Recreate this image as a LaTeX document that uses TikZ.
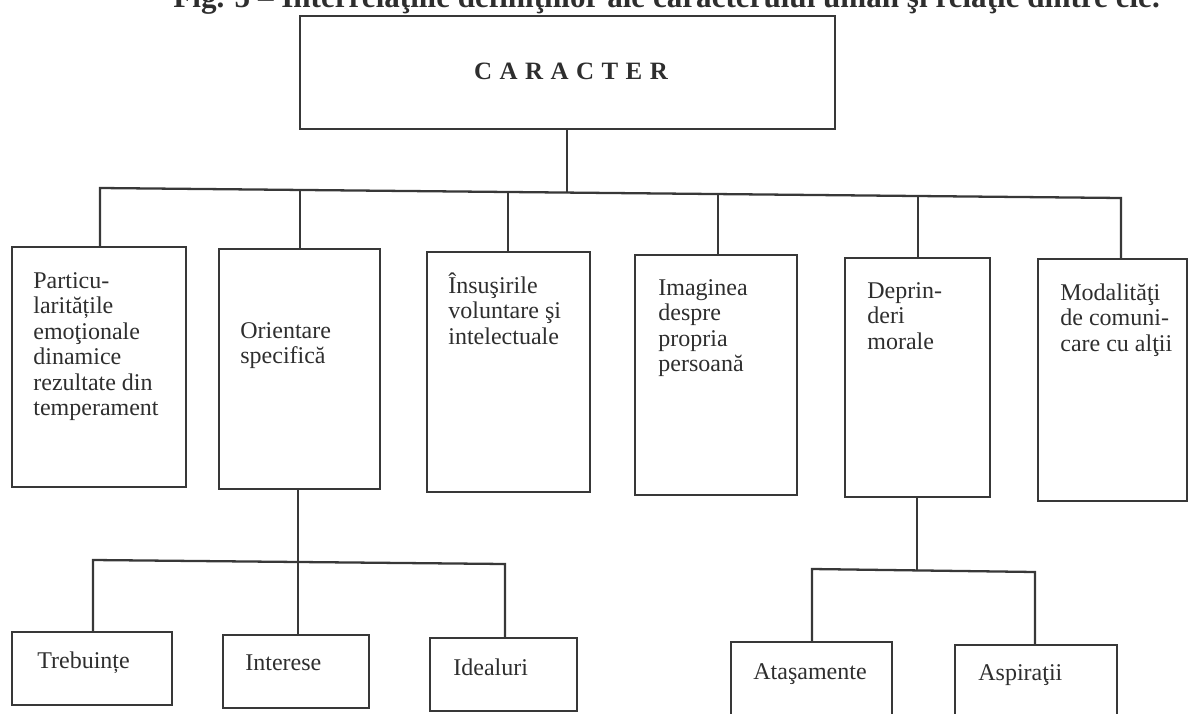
\documentclass[tikz,border=0pt]{standalone}
\usepackage{fontspec}
\setmainfont{Liberation Serif}
\usetikzlibrary{calc}
\definecolor{ink}{gray}{0.18}
\definecolor{rule}{gray}{0.22}
\newcommand{\fstrut}{\rule{0pt}{0.95em}}
\begin{document}
\begin{tikzpicture}[x=0.02cm,y=-0.02cm,
  box/.style 2 args={draw=rule, line width=1.3pt, minimum width={#1*0.02cm}, minimum height={#2*0.02cm}, inner sep=0pt},
  link/.style={draw=rule, line width=1.3pt},
  txt/.style={anchor=north west, inner sep=0pt, align=left, text=ink,
    font=\fontsize{13.66}{14.5}\selectfont},
  head/.style={inner sep=0pt, text=ink, font=\fontsize{17.7}{19}\selectfont\bfseries}]
\useasboundingbox (0,0) rectangle (1189,713);
\clip (0,0) rectangle (1189,713);

% caption line, partly cut off at the top edge
\node[head, anchor=base east] (cap) at (1160,8) {Fig. 5 -- Interrelaţiile definiţiilor ale caracterului uman şi relaţie dintre ele.};

% root
\node[box={535}{113}] (b0) at (567.5,72.5) {};
\node[inner sep=0pt, anchor=base, text=ink, font=\fontsize{14.2}{16}\selectfont\bfseries\addfontfeature{LetterSpace=30}] (b0t) at (571,80) {CARACTER};

% first level
\node[box={174}{240}] (b1) at (99,367) {};
\node[box={161}{240}] (b2) at (299.5,369) {};
\node[box={163}{240}] (b3) at (508.5,372) {};
\node[box={162}{240}] (b4) at (716,375) {};
\node[box={145}{239}] (b5) at (917.5,377.5) {};
\node[box={149}{242}] (b6) at (1112.5,380) {};

\node[txt] (b1t) at (33,265.2) {\fstrut Particu-\\laritățile\\emoţionale\\dinamice\\rezultate din\\temperament};
\node[txt] (b2t) at (240,315.2) {\fstrut Orientare\\specifică};
\node[txt] (b3t) at (448,270.2) {\fstrut Însuşirile\\voluntare şi\\intelectuale};
\node[txt] (b4t) at (658,272.2) {\fstrut Imaginea\\despre\\propria\\persoană};
\node[txt] (b5t) at (867,275.2) {\fstrut Deprin-\\deri\\morale};
\node[txt] (b6t) at (1060,277.2) {\fstrut Modalităţi\\de comuni-\\care cu alţii};

% second level under "Orientare specifică"
\node[box={160}{73}] (t1) at (92,668.5) {};
\node[box={146}{73}] (t2) at (296,671.5) {};
\node[box={147}{73}] (t3) at (503.5,674.5) {};
\node[txt] (t1t) at (37,645.2) {\fstrut Trebuințe};
\node[txt] (t2t) at (245,647.2) {\fstrut Interese};
\node[txt] (t3t) at (453,652.2) {\fstrut Idealuri};

% second level under "Deprinderi morale"
\node[box={161}{98}] (a1) at (811.5,691) {};
\node[box={162}{95}] (a2) at (1036,692.5) {};
\node[txt] (a1t) at (753,656.2) {\fstrut Ataşamente};
\node[txt] (a2t) at (978,657.2) {\fstrut Aspiraţii};

% top bus
\coordinate (busL) at (100,188);
\coordinate (busR) at (1121,198);
\coordinate (j0) at (567,192.6);
\coordinate (j2) at (300,190.0);
\coordinate (j3) at (508,192.0);
\coordinate (j4) at (718,194.0);
\coordinate (j5) at (918,196.0);
\draw[link] (b0.south -| j0) -- (j0);
\draw[link] (busL |- b1.north) -- (busL) -- (busR) -- (busR |- b6.north);
\draw[link] (j2) -- (j2 |- b2.north);
\draw[link] (j3) -- (j3 |- b3.north);
\draw[link] (j4) -- (j4 |- b4.north);
\draw[link] (j5) -- (j5 |- b5.north);

% lower-left bus
\coordinate (sL) at (93,560);
\coordinate (sR) at (505,564);
\coordinate (k2) at (298,562);
\draw[link] (k2 |- b2.south) -- (k2);
\draw[link] (sL |- t1.north) -- (sL) -- (sR) -- (sR |- t3.north);
\draw[link] (k2) -- (k2 |- t2.north);

% lower-right bus
\coordinate (rL) at (812,569);
\coordinate (rR) at (1035,572);
\coordinate (k5) at (917,570.4);
\draw[link] (k5 |- b5.south) -- (k5);
\draw[link] (rL |- a1.north) -- (rL) -- (rR) -- (rR |- a2.north);
\end{tikzpicture}
\end{document}
